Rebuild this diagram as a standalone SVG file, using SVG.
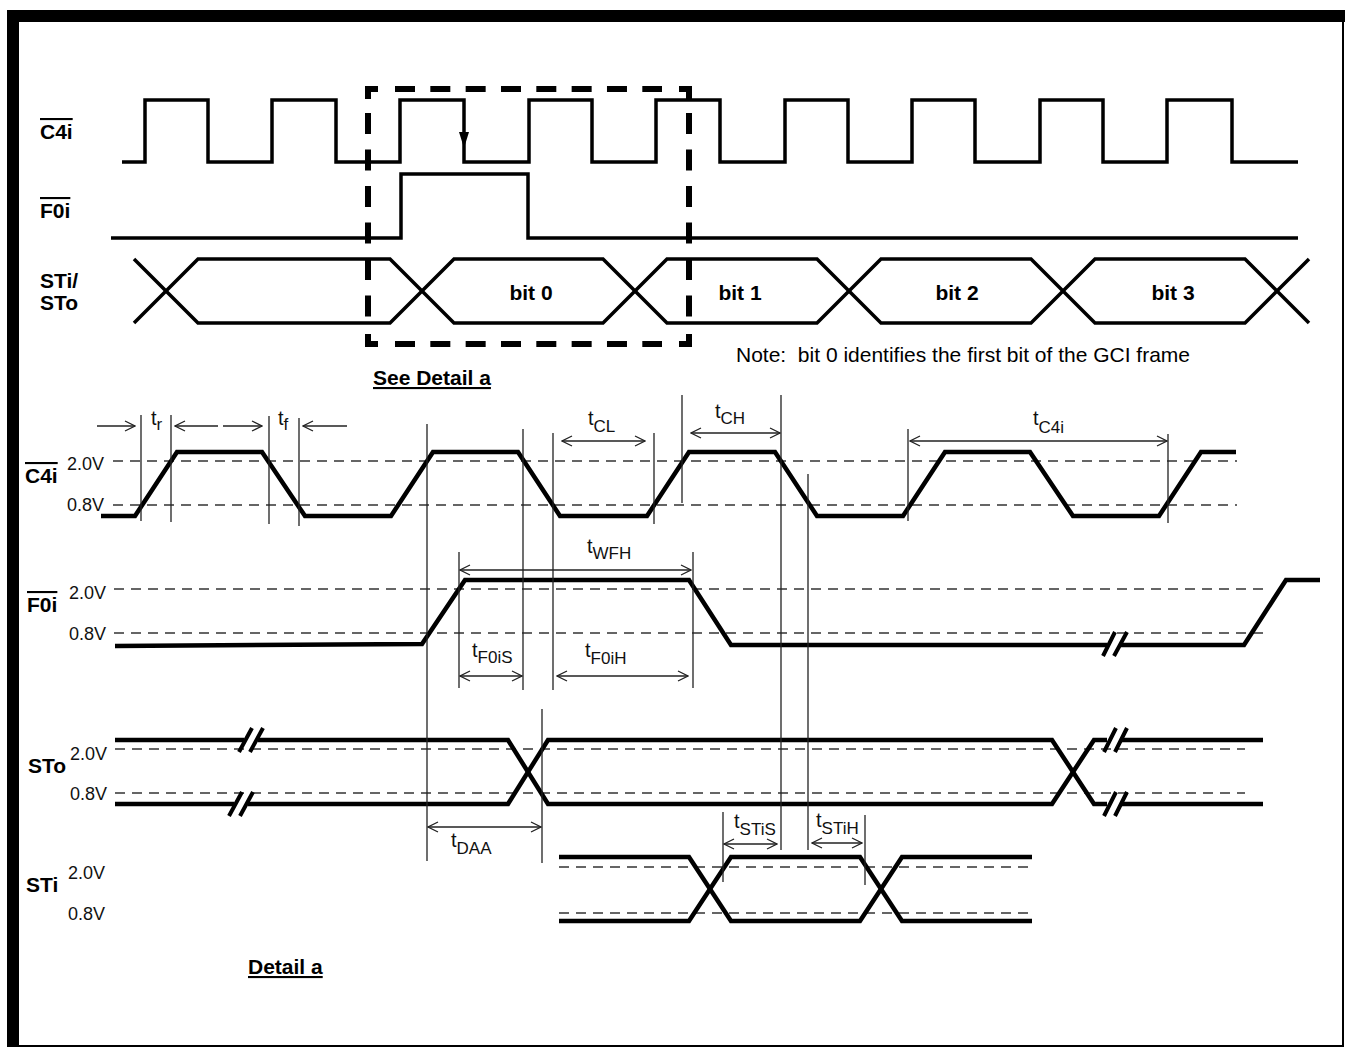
<svg xmlns="http://www.w3.org/2000/svg" width="1345" height="1049" viewBox="0 0 1345 1049">
<style>
.wt{stroke:#000;stroke-width:3.5;fill:none;stroke-linejoin:miter}
.wd{stroke:#000;stroke-width:4.5;fill:none;stroke-linejoin:miter}
.ref{stroke:#333;stroke-width:1.3;stroke-dasharray:10 7;fill:none}
.vl{stroke:#222;stroke-width:1.3;fill:none}
.arr{stroke:#222;stroke-width:1.3;fill:none;marker-end:url(#ah)}
.darr{stroke:#222;stroke-width:1.3;fill:none;marker-start:url(#ah);marker-end:url(#ah)}
.brk{stroke:#000;stroke-width:4;fill:none}
.box{stroke:#000;stroke-width:6;fill:none;stroke-linejoin:miter}
.lb{font-family:"Liberation Sans",Arial,sans-serif;font-weight:bold;font-size:21px;fill:#000}
.ov{text-decoration:overline}
.ul{text-decoration:underline}
.v{font-family:"Liberation Sans",Arial,sans-serif;font-size:18px;fill:#111}
.t{font-family:"Liberation Sans",Arial,sans-serif;font-size:20px;fill:#111}
.sub{font-size:17px}
.note{font-family:"Liberation Sans",Arial,sans-serif;font-size:21px;fill:#000;white-space:pre}
</style>
<defs>
<marker id="ah" viewBox="-1 -6 12 12" refX="10" refY="0" markerWidth="12" markerHeight="12" markerUnits="userSpaceOnUse" orient="auto-start-reverse">
<path d="M0,-5 L10,0 L0,5" fill="none" stroke="#222" stroke-width="1.3"/>
</marker>
</defs>
<rect width="1345" height="1049" fill="#fff"/>
<g id="frame">
<path d="M1343,16 V1046 H13" fill="none" stroke="#000" stroke-width="2"/>
<rect x="7" y="10" width="1338" height="12" fill="#000"/>
<rect x="7" y="10" width="12" height="1037" fill="#000"/>
</g>
<g id="overview">
<g id="sig-C4i-top">
<text class="lb ov" x="40" y="139">C4i</text>
<path class="wt" d="M122,162 H145 V100 H208 V162 H272 V100 H336 V162 H400 V100 H464 V162 H529 V100 H592 V162 H656 V100 H720 V162 H785 V100 H848 V162 H912 V100 H975 V162 H1040 V100 H1103 V162 H1167 V100 H1232 V162 H1298"/>
<polygon points="459,132 469,132 464,148" fill="#000"/>
</g>
<g id="sig-F0i-top">
<text class="lb ov" x="40" y="218">F0i</text>
<path class="wt" d="M111,238 H401 V174 H528 V238 H1298"/>
</g>
<g id="sig-STi-STo-top">
<text class="lb" x="40" y="288">STi/</text>
<text class="lb" x="40" y="310">STo</text>
<path class="wt" d="M134,259 L198,323 H390 L454,259 H603 L667,323 H817 L881,259 H1031 L1095,323 H1245 L1309,259"/>
<path class="wt" d="M134,323 L198,259 H390 L454,323 H603 L667,259 H817 L881,323 H1031 L1095,259 H1245 L1309,323"/>
<text class="lb" x="531" y="300" text-anchor="middle">bit 0</text>
<text class="lb" x="740" y="300" text-anchor="middle">bit 1</text>
<text class="lb" x="957" y="300" text-anchor="middle">bit 2</text>
<text class="lb" x="1173" y="300" text-anchor="middle">bit 3</text>
</g>
<g id="detail-box">
<path class="box" d="M368,99 V89 H378 M679,89 H689 V99 M368,334 V344 H378 M679,344 H689 V334"/>
<path class="box" stroke-dasharray="20 15.33" d="M395,89 H662 M395,344 H662"/>
<path class="box" stroke-dasharray="21 15.5" d="M368,113 V318 M689,113 V318"/>
<text class="lb ul" x="373" y="385">See Detail a</text>
</g>
<text class="note" x="736" y="362">Note:  bit 0 identifies the first bit of the GCI frame</text>
</g>
<g id="detail">
<g id="sig-C4i-detail">
<text class="lb ov" x="25" y="483">C4i</text>
<text class="v" x="67" y="470">2.0V</text>
<text class="v" x="67" y="511">0.8V</text>
<path class="ref" d="M113,461 H1237 M113,505 H1237"/>
<path class="wd" d="M101,516 H135 L177,452 H262 L305,516 H391 L433,452 H518 L560,516 H647 L689,452 H775 L817,516 H903 L945,452 H1030 L1073,516 H1159 L1201,452 H1236"/>
</g>
<g id="sig-F0i-detail">
<text class="lb ov" x="27" y="612">F0i</text>
<text class="v" x="69" y="599">2.0V</text>
<text class="v" x="69" y="640">0.8V</text>
<path class="ref" d="M114,589 H1266 M114,633 H1266"/>
<path class="wd" d="M115,646 L422,644 L465,580 H689 L731,645 H1107 M1121,645 H1244 L1286,580 H1320"/>
<path class="brk" d="M1103,656 L1115,632 M1114,656 L1127,632"/>
</g>
<g id="sig-STo-detail">
<text class="lb" x="28" y="773">STo</text>
<text class="v" x="70" y="760">2.0V</text>
<text class="v" x="70" y="800">0.8V</text>
<path class="ref" d="M115,749 H1245 M115,793 H1245"/>
<path class="wd" d="M115,740 H244 M258,740 H508 L548,804 H1052 L1094,740 H1107 M1121,740 H1263"/>
<path class="wd" d="M115,804 H234 M248,804 H508 L548,740 H1052 L1094,804 H1107 M1121,804 H1263"/>
<path class="brk" d="M239,752 L252,728 M250,752 L263,728 M229,816 L242,792 M240,816 L253,792 M1104,752 L1116,728 M1115,752 L1127,728 M1104,816 L1116,792 M1115,816 L1127,792"/>
</g>
<g id="sig-STi-detail">
<text class="lb" x="26" y="892">STi</text>
<text class="v" x="68" y="879">2.0V</text>
<text class="v" x="68" y="920">0.8V</text>
<path class="ref" d="M559,867 H1035 M559,913 H1035"/>
<path class="wd" d="M559,857 H689 L731,921 H860 L902,857 H1032"/>
<path class="wd" d="M559,921 H689 L731,857 H860 L902,921 H1032"/>
</g>
<text class="lb ul" x="248" y="974">Detail a</text>
</g>
<g id="connectors">
<path class="vl" d="M141,415 V521 M171,415 V522 M269,416 V524 M299,418 V526 M427,424 V861 M523,429 V690 M553,433 V690 M654,433 V524 M682,395 V503 M781,395 V850 M808,474 V850 M908,429 V521 M1168,434 V523 M459,552 V688 M693,552 V688 M542,709 V863 M723,812 V882 M865,815 V885"/>
<path class="arr" d="M97,426 H135"/>
<path class="arr" d="M218,426 H175"/>
<path class="arr" d="M223,426 H262"/>
<path class="arr" d="M347,426 H303"/>
<path class="darr" d="M562,441 H645"/>
<path class="darr" d="M691,433 H780"/>
<path class="darr" d="M910,441 H1167"/>
<path class="darr" d="M460,570 H691"/>
<path class="darr" d="M460,676 H522"/>
<path class="darr" d="M557,676 H688"/>
<path class="darr" d="M428,827 H541"/>
<path class="darr" d="M724,844 H777"/>
<path class="darr" d="M812,843 H862"/>
<text class="t" x="151" y="425">t<tspan class="sub" dy="5">r</tspan></text>
<text class="t" x="278" y="425">t<tspan class="sub" dy="5">f</tspan></text>
<text class="t" x="588" y="425">t<tspan class="sub" dy="7">CL</tspan></text>
<text class="t" x="715" y="418">t<tspan class="sub" dy="6">CH</tspan></text>
<text class="t" x="1033" y="425">t<tspan class="sub" dy="8">C4i</tspan></text>
<text class="t" x="587" y="553">t<tspan class="sub" dy="6">WFH</tspan></text>
<text class="t" x="472" y="657">t<tspan class="sub" dy="6">F0iS</tspan></text>
<text class="t" x="585" y="657">t<tspan class="sub" dy="7">F0iH</tspan></text>
<text class="t" x="451" y="847">t<tspan class="sub" dy="7">DAA</tspan></text>
<text class="t" x="734" y="828">t<tspan class="sub" dy="7">STiS</tspan></text>
<text class="t" x="816" y="827">t<tspan class="sub" dy="7">STiH</tspan></text>
</g>
</svg>
